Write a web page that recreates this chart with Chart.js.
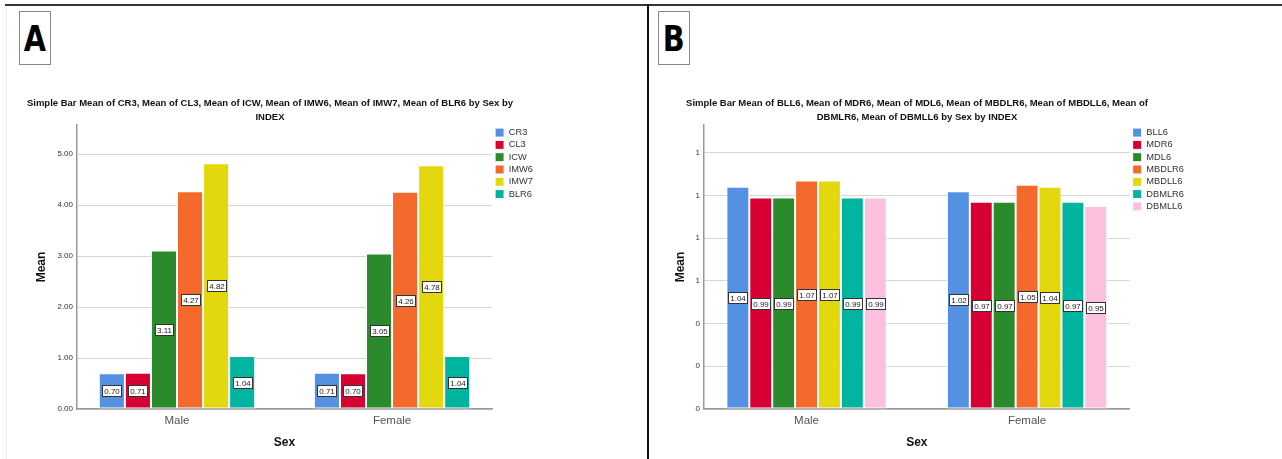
<!DOCTYPE html>
<html>
<head>
<meta charset="utf-8">
<script src="https://cdn.jsdelivr.net/npm/chart.js@4.4.0/dist/chart.umd.min.js"></script>
<style>
  body { margin: 0; background: #fff; width: 1282px; height: 459px; position: relative; overflow: hidden; font-family: "Liberation Sans", Arial, sans-serif; }
  .topline { position: absolute; left: 5px; top: 4px; width: 1277px; height: 2px; background: #333; }
  .divider { position: absolute; left: 647px; top: 4px; width: 2px; height: 455px; background: #111; }
  .leftline { position: absolute; left: 6px; top: 8px; width: 1px; height: 451px; background: #eee; }
  .tag { position: absolute; top: 11px; width: 30px; height: 52px; border: 1px solid #888; text-align: center; color: #000; }
  .tag span { display: inline-block; font: bold 36px "DejaVu Sans", sans-serif; line-height: 54px; transform: scaleX(0.8); }
  .wrap { position: absolute; top: 92px; height: 360px; }
</style>
</head>
<body>
<div class="topline"></div>
<div class="leftline"></div>
<div class="divider"></div>
<div class="tag" style="left:19px"><span>A</span></div>
<div class="tag" style="left:658px"><span>B</span></div>
<div class="wrap" style="left:-3px;width:546px"><canvas id="chartA"></canvas></div>
<div class="wrap" style="left:640px;width:554px"><canvas id="chartB"></canvas></div>
<script>
const sexes = ['Male', 'Female'];

// panel A
const namesA = ['CR3', 'CL3', 'ICW', 'IMW6', 'IMW7', 'BLR6'];
const cr3 = [0.70, 0.71];
const cl3 = [0.71, 0.70];
const icw = [3.11, 3.05];
const imw6 = [4.27, 4.26];
const imw7 = [4.82, 4.78];
const blr6 = [1.04, 1.04];
const ticksA = ['0.00', '1.00', '2.00', '3.00', '4.00', '5.00'];

// panel B
const namesB = ['BLL6', 'MDR6', 'MDL6', 'MBDLR6', 'MBDLL6', 'DBMLR6', 'DBMLL6'];
const bll6 = [1.04, 1.02];
const mdr6 = [0.99, 0.97];
const mdl6 = [0.99, 0.97];
const mbdlr6 = [1.07, 1.05];
const mbdll6 = [1.07, 1.04];
const dbmlr6 = [0.99, 0.97];
const dbmll6 = [0.99, 0.95];
const ticksB = ['0', '0', '0', '1', '1', '1', '1'];

const colors = ['#5591e2', '#d80032', '#2b8a2b', '#f36a2c', '#e2d80d', '#00b5a0', '#fcc0df'];
const font = '"Liberation Sans", Arial, sans-serif';

// SPSS puts the two groups a little further apart than Chart.js would
const spreadGroups = {
  id: 'spreadGroups',
  afterLayout(chart) {
    const x = chart.scales.x;
    x._startValue = -0.465;
    x._valueRange = 1.93;
  }
};

// white boxes with the mean, halfway up each bar
const valueBoxes = {
  id: 'valueBoxes',
  afterDatasetsDraw(chart) {
    const ctx = chart.ctx;
    ctx.save();
    ctx.font = '8px ' + font;
    ctx.textAlign = 'center';
    ctx.textBaseline = 'middle';
    chart.data.datasets.forEach((ds, i) => {
      chart.getDatasetMeta(i).data.forEach((bar, j) => {
        const text = ds.data[j].toFixed(2);
        const w = Math.round(ctx.measureText(text).width + 3);
        const h = 11;
        const left = Math.round(bar.x - w / 2) + 0.5;
        const top = Math.round((bar.y + bar.base) / 2 - h / 2) + 0.5;
        ctx.fillStyle = '#fff';
        ctx.fillRect(left, top, w, h);
        ctx.strokeStyle = '#333';
        ctx.lineWidth = 1;
        ctx.strokeRect(left, top, w, h);
        ctx.fillStyle = '#222';
        ctx.fillText(text, left + w / 2, top + h / 2 + 0.5);
      });
    });
    ctx.restore();
  }
};

function makeChart(id, title, names, series, yMax, yStep, yTicks, yWidth, yTitlePad) {
  new Chart(document.getElementById(id), {
    type: 'bar',
    data: {
      labels: sexes,
      datasets: series.map((values, i) => ({
        label: names[i],
        data: values,
        backgroundColor: colors[i],
        borderColor: '#fff',
        borderWidth: 1,
        borderSkipped: false,
        barPercentage: 1,
        categoryPercentage: 0.727
      }))
    },
    options: {
      responsive: true,
      maintainAspectRatio: false,
      animation: false,
      layout: { padding: 0 },
      plugins: {
        title: {
          display: true,
          text: title,
          color: '#111',
          font: { family: font, size: 9.5, weight: 'bold', lineHeight: 1.47 },
          padding: { top: 4, bottom: 1 }
        },
        legend: {
          position: 'right',
          align: 'start',
          fullSize: false,
          labels: {
            boxWidth: 9,
            boxHeight: 9,
            padding: 3,
            color: '#333',
            font: { family: font, size: 9.3 }
          }
        },
        tooltip: { enabled: false }
      },
      scales: {
        x: {
          grid: { display: false, drawTicks: false },
          border: { color: '#999', width: 1.5 },
          ticks: { color: '#555', padding: 5, font: { family: font, size: 11.5 } },
          title: { display: true, text: 'Sex', color: '#111', font: { family: font, size: 12, weight: 'bold' }, padding: { top: 0, bottom: 1.8 } },
          afterFit: (scale) => { scale.height = 43; }
        },
        y: {
          min: 0,
          max: yMax,
          grid: { color: '#d6d6d6', drawTicks: false },
          border: { color: '#999', width: 1.5 },
          ticks: {
            stepSize: yStep,
            includeBounds: false,
            padding: 4,
            color: '#333',
            font: { family: font, size: 8 },
            callback: (v, i) => yTicks[i]
          },
          title: { display: true, text: 'Mean', color: '#111', font: { family: font, size: 12, weight: 'bold' }, padding: { top: yTitlePad, bottom: 0 } },
          afterFit: (scale) => { scale.width = yWidth; }
        }
      }
    },
    plugins: [spreadGroups, valueBoxes]
  });
}

makeChart('chartA',
  ['Simple Bar Mean of CR3, Mean of CL3, Mean of ICW, Mean of IMW6, Mean of IMW7, Mean of BLR6 by Sex by', 'INDEX'],
  namesA, [cr3, cl3, icw, imw6, imw7, blr6], 5.57, 1, ticksA, 80, 37.8);

makeChart('chartB',
  ['Simple Bar Mean of BLL6, Mean of MDR6, Mean of MDL6, Mean of MBDLR6, Mean of MBDLL6, Mean of', 'DBMLR6, Mean of DBMLL6 by Sex by INDEX'],
  namesB, [bll6, mdr6, mdl6, mbdlr6, mbdll6, dbmlr6, dbmll6], 1.33, 0.2, ticksB, 64, 33.8);
</script>
</body>
</html>
